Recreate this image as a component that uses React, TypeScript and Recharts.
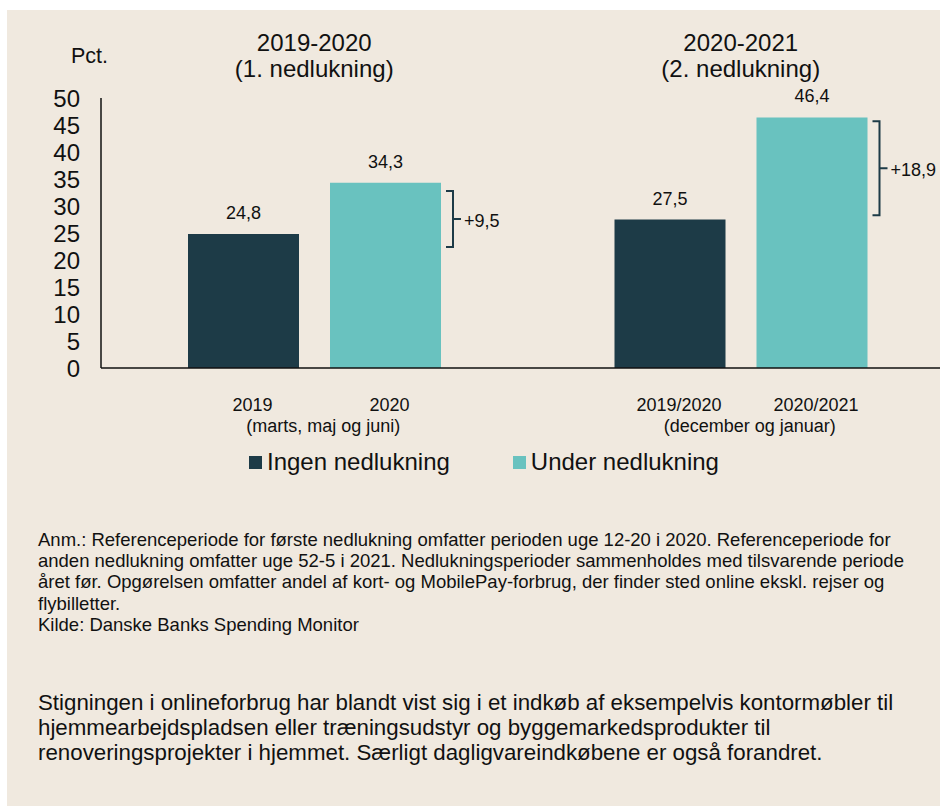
import { BarChart, Bar, XAxis, YAxis, LabelList, Legend } from "recharts";

const FONT = '"Liberation Sans", Arial, sans-serif';
const BEIGE = "#f0e9df";
const DARK = "#1d3b47";
const TEAL = "#69c2bf";
const INK = "#111";

// two lockdown periods, each compared with the same weeks the year before
const periods = ["2019-2020", "2020-2021"];
const lockdowns = ["(1. nedlukning)", "(2. nedlukning)"];
const spans = ["(marts, maj og juni)", "(december og januar)"];
const ingenYears = ["2019", "2019/2020"];
const underYears = ["2020", "2020/2021"];
const ingen = [24.8, 27.5];
const under = [34.3, 46.4];
const diffLabels = ["+9,5", "+18,9"];
// bracket ends as drawn in the original (pct.)
const bracketLow = [22.4, 28.3];
const bracketHigh = [32.8, 45.7];
const yTicks = [0, 5, 10, 15, 20, 25, 30, 35, 40, 45, 50];

const notes = [
  "Anm.: Referenceperiode for første nedlukning omfatter perioden uge 12-20 i 2020. Referenceperiode for",
  "anden nedlukning omfatter uge 52-5 i 2021. Nedlukningsperioder sammenholdes med tilsvarende periode",
  "året før. Opgørelsen omfatter andel af kort- og MobilePay-forbrug, der finder sted online ekskl. rejser og",
  "flybilletter.",
  "Kilde: Danske Banks Spending Monitor",
];
const paragraph = [
  "Stigningen i onlineforbrug har blandt vist sig i et indkøb af eksempelvis kontormøbler til",
  "hjemmearbejdspladsen eller træningsudstyr og byggemarkedsprodukter til",
  "renoveringsprojekter i hjemmet. Særligt dagligvareindkøbene er også forandret.",
];

const data = periods.map((p, i) => ({
  period: p,
  ingen: ingen[i],
  under: under[i],
  ingenYear: ingenYears[i],
  underYear: underYears[i],
  diff: diffLabels[i],
}));

const comma = (v: any) => Number(v).toFixed(1).replace(".", ",");

function box(props: any) {
  const vb = props.viewBox ?? {};
  return {
    x: vb.x ?? props.x,
    y: vb.y ?? props.y,
    width: vb.width ?? props.width,
    height: vb.height ?? props.height,
  };
}

const TitleTick = (props: any) => {
  const { x, y, payload } = props;
  const i = periods.indexOf(payload.value);
  return (
    <g>
      <text x={x} y={y - 47} textAnchor="middle" fontSize={24} fill={INK}>
        {payload.value}
      </text>
      <text x={x} y={y - 21} textAnchor="middle" fontSize={24} fill={INK}>
        {lockdowns[i]}
      </text>
    </g>
  );
};

const SpanTick = (props: any) => {
  const { x, y, payload } = props;
  const i = periods.indexOf(payload.value);
  return (
    <text x={x + 9} y={y + 64} textAnchor="middle" fontSize={18} fill={INK}>
      {spans[i]}
    </text>
  );
};

const yearLabel = (dx: number) => (props: any) => {
  const b = box(props);
  return (
    <text
      x={b.x + b.width / 2 + dx}
      y={b.y + b.height + 43}
      textAnchor="middle"
      fontSize={18}
      fill={INK}
    >
      {props.value}
    </text>
  );
};

const Bracket = (props: any) => {
  const b = box(props);
  const i = props.index ?? 0;
  const base = b.y + b.height;
  const perUnit = b.height / under[i];
  const top = base - bracketHigh[i] * perUnit;
  const low = base - bracketLow[i] * perUnit;
  const mid = (top + low) / 2;
  const bx = b.x + b.width + 12;
  return (
    <g>
      <path
        d={`M${bx - 7},${top} H${bx} V${low} H${bx - 7} M${bx},${mid} H${bx + 8}`}
        stroke={DARK}
        strokeWidth={2}
        fill="none"
      />
      <text x={bx + 11} y={mid + 2} dominantBaseline="central" fontSize={18} fill={INK}>
        {props.value}
      </text>
    </g>
  );
};

const PctLabel = (props: any) => {
  const vb = props.viewBox;
  return (
    <text x={vb.x + vb.width + 7} y={vb.y - 35.5} textAnchor="end" fontSize={21.5} fill={INK}>
      Pct.
    </text>
  );
};

const LegendContent = (props: any) => (
  <div style={{ display: "flex", alignItems: "center", fontSize: 24, lineHeight: "28px", color: INK }}>
    {(props.payload ?? []).map((p: any, i: number) => (
      <div key={i} style={{ display: "flex", alignItems: "center", marginLeft: i ? 63 : 0 }}>
        <span style={{ width: 13, height: 13, background: p.color, marginRight: 5, display: "inline-block" }} />
        <span>{p.value}</span>
      </div>
    ))}
  </div>
);

export default function App() {
  return (
    <div
      style={{
        position: "fixed",
        left: 0,
        top: 0,
        width: 940,
        height: 807,
        overflow: "hidden",
        background: "#fff",
        fontFamily: FONT,
        color: INK,
      }}
    >
      <div style={{ position: "absolute", left: 7, top: 10, right: 0, bottom: 1, background: BEIGE }} />
      <div style={{ position: "absolute", left: 0, top: 0 }}>
        <BarChart
          width={960}
          height={500}
          data={data}
          margin={{ top: 0, right: 6, bottom: 0, left: 0 }}
          barSize={111}
          barGap={31}
        >
          <XAxis
            xAxisId="top"
            orientation="top"
            dataKey="period"
            height={98}
            axisLine={false}
            tickLine={false}
            tickSize={0}
            tickMargin={0}
            interval={0}
            tick={<TitleTick />}
          />
          <XAxis
            dataKey="period"
            height={132}
            axisLine={{ stroke: "#111", strokeWidth: 1.5 }}
            tickLine={false}
            tickSize={0}
            tickMargin={0}
            interval={0}
            tick={<SpanTick />}
          />
          <YAxis
            width={101}
            domain={[0, 50]}
            ticks={yTicks}
            interval={0}
            axisLine={{ stroke: "#111", strokeWidth: 1.5 }}
            tickLine={false}
            tickSize={0}
            tickMargin={21}
            tick={{ fontSize: 24, fill: INK }}
            label={<PctLabel />}
          />
          <Legend
            verticalAlign="middle"
            align="center"
            wrapperStyle={{ top: 448, left: 249, width: "auto" }}
            content={<LegendContent />}
          />
          <Bar dataKey="ingen" name="Ingen nedlukning" fill={DARK} isAnimationActive={false}>
            <LabelList dataKey="ingen" position="top" offset={15} formatter={comma} fontSize={18} fill={INK} />
            <LabelList dataKey="ingenYear" content={yearLabel(9)} />
          </Bar>
          <Bar dataKey="under" name="Under nedlukning" fill={TEAL} isAnimationActive={false}>
            <LabelList dataKey="under" position="top" offset={15} formatter={comma} fontSize={18} fill={INK} />
            <LabelList dataKey="underYear" content={yearLabel(4)} />
            <LabelList dataKey="diff" content={<Bracket />} />
          </Bar>
        </BarChart>
      </div>
      <div style={{ position: "absolute", left: 38, top: 529, fontSize: 18.5, lineHeight: "21.2px", whiteSpace: "nowrap" }}>
        {notes.map((l, i) => (
          <div key={i}>{l}</div>
        ))}
      </div>
      <div style={{ position: "absolute", left: 38, top: 690, fontSize: 22.3, lineHeight: "25px", whiteSpace: "nowrap" }}>
        {paragraph.map((l, i) => (
          <div key={i}>{l}</div>
        ))}
      </div>
    </div>
  );
}
